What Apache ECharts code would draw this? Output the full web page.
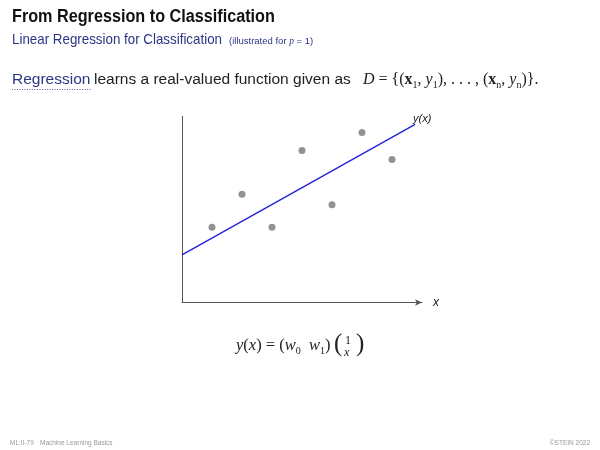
<!DOCTYPE html>
<html><head><meta charset="utf-8">
<script src="https://cdn.jsdelivr.net/npm/echarts@6/dist/echarts.min.js"></script>
<style>html,body{margin:0;padding:0;background:#fff}#c{width:600px;height:450px}</style>
</head><body><div id="c"></div>
<script>
// data
const pointX = [1, 2, 3, 4, 5, 6, 7];
const pointY = [2.51, 3.61, 2.51, 5.07, 3.26, 5.67, 4.77];
const lineX = [0, 7.77];
const lineY = [1.59, 5.94];
const xRange = [0, 8];
const yRange = [0, 6.2];

const chart = echarts.init(document.getElementById('c'), null, {renderer: 'canvas'});
const sans = 'Liberation Sans, Arial, sans-serif';
const serif = 'Liberation Serif, DejaVu Serif, serif';
const blue = '#2b3585';
const ink = '#222';

const pts = pointX.map((x, i) => [x, pointY[i]]);
const ln = lineX.map((x, i) => [x, lineY[i]]);

chart.setOption({
  animation: false,
  grid: {left: 182, top: 116.5, width: 240, height: 186},
  xAxis: {type: 'value', min: xRange[0], max: xRange[1],
    axisLine: {show: true, symbol: ['none', 'arrow'], symbolSize: [5, 7], lineStyle: {color: '#555', width: 1}},
    axisTick: {show: false}, axisLabel: {show: false}, splitLine: {show: false},
    name: 'x', nameLocation: 'end', nameGap: 11,
    nameTextStyle: {fontFamily: sans, fontStyle: 'italic', fontSize: 12, color: ink}},
  yAxis: {type: 'value', min: yRange[0], max: yRange[1],
    axisLine: {show: true, lineStyle: {color: '#555', width: 1}},
    axisTick: {show: false}, axisLabel: {show: false}, splitLine: {show: false}},
  series: [
    {type: 'line', data: ln, symbol: 'none', lineStyle: {color: '#2323d6', width: 1.4}, z: 2,
     endLabel: {show: true, formatter: 'y(x)', offset: [-10, -5], fontFamily: sans, fontStyle: 'italic', fontSize: 11, color: ink}},
    {type: 'scatter', data: pts, symbolSize: 7, itemStyle: {color: '#777'}, z: 3}
  ],
  graphic: [
    {type: 'text', left: 12, top: 8, scaleX: 0.9, style: {text: 'From Regression to Classification', font: 'bold 18px ' + sans, fill: '#111'}},
    {type: 'text', left: 12, top: 32, scaleX: 0.89, style: {text: 'Linear Regression for Classification', font: '15px ' + sans, fill: blue}},
    {type: 'text', left: 229, top: 36, style: {
      text: '(illustrated for {m|p} = 1)', font: '9.5px ' + sans, fill: blue,
      rich: {m: {fontSize: 9.5, fontFamily: serif, fontStyle: 'italic', fill: blue}}}},
    {type: 'text', left: 12, top: 72, style: {text: 'Regression', font: '15.5px ' + sans, fill: blue}},
    {type: 'text', left: 94, top: 72, style: {text: 'learns a real-valued function given as', font: '15.5px ' + sans, fill: ink}},
    {type: 'text', left: 363, top: 70, style: {
      text: '{i|D} = {({x|x}{s|1}, {i|y}{s|1}), . . . , ({x|x}{s|n}, {i|y}{s|n})}.',
      font: '16px ' + serif, fill: ink, lineHeight: 20,
      rich: {
        i: {fontFamily: serif, fontStyle: 'italic', fontSize: 16, fill: ink},
        x: {fontFamily: serif, fontWeight: 'bold', fontSize: 16, fill: ink},
        s: {fontFamily: serif, fontSize: 10, fill: ink, verticalAlign: 'bottom', lineHeight: 14}
      }}},
    {type: 'line', shape: {x1: 12, y1: 89.5, x2: 91, y2: 89.5}, style: {stroke: blue, lineWidth: 0.8, lineDash: [1, 1.5]}},
    // formula
    {type: 'text', left: 236, top: 336, style: {
      text: '{i|y}({i|x}) = ({i|w}{s|0}  {i|w}{s|1})',
      font: '16.5px ' + serif, fill: ink, lineHeight: 20,
      rich: {i: {fontFamily: serif, fontStyle: 'italic', fontSize: 16.5, fill: ink},
             s: {fontFamily: serif, fontSize: 10, fill: ink, verticalAlign: 'bottom', lineHeight: 15}}}},
    {type: 'text', left: 334, top: 332, style: {text: '(', font: '25px ' + serif, fill: ink}},
    {type: 'text', left: 356, top: 332, style: {text: ')', font: '25px ' + serif, fill: ink}},
    {type: 'text', left: 345, top: 335, style: {text: '1', font: '12px ' + serif, fill: ink}},
    {type: 'text', left: 344, top: 347, style: {text: 'x', font: 'italic 12px ' + serif, fill: ink}},
    // footer
    {type: 'text', left: 10, top: 440, style: {text: 'ML:II-79', font: '6.5px ' + sans, fill: '#999'}},
    {type: 'text', left: 40, top: 440, style: {text: 'Machine Learning Basics', font: '6.5px ' + sans, fill: '#999'}},
    {type: 'text', right: 10, top: 440, style: {text: '©STEIN 2022', font: '6.5px ' + sans, fill: '#999'}}
  ]
});
</script></body></html>
